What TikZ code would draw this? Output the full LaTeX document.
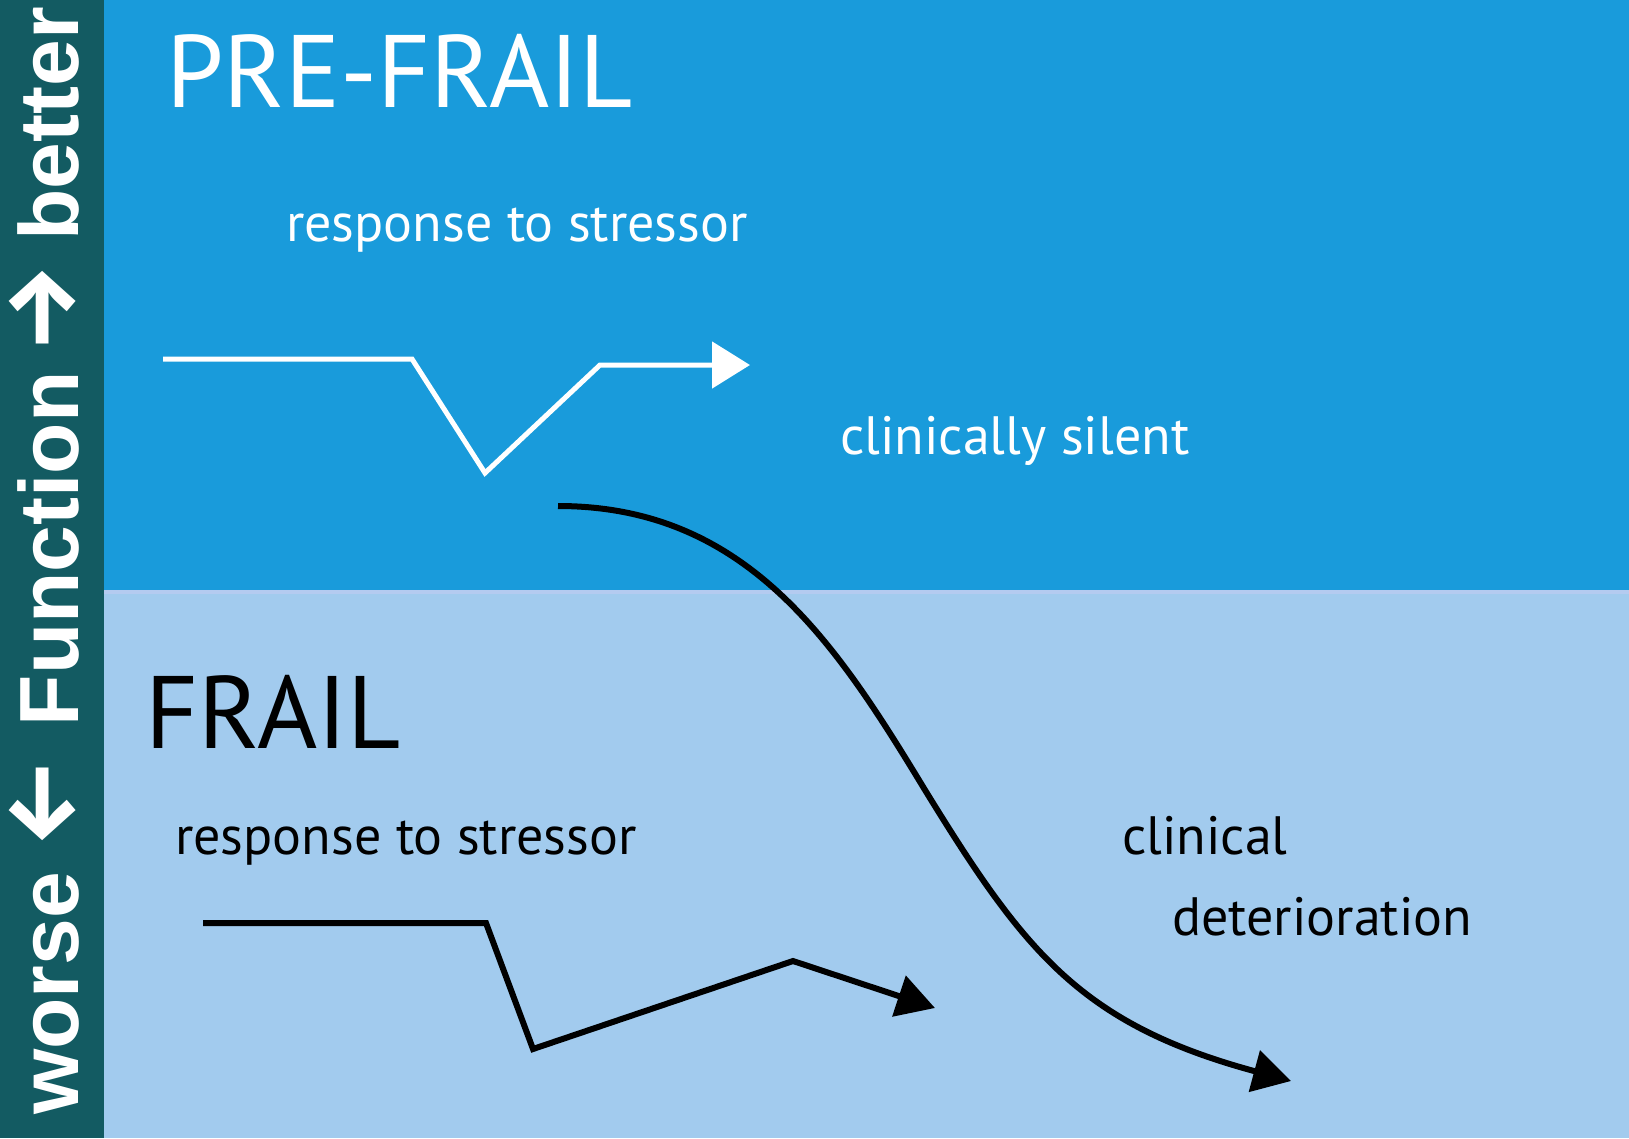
\documentclass[tikz,border=0pt]{standalone}
\usepackage{fontspec}
\setmainfont{PT Sans}
\newfontfamily\axisfont{Liberation Sans}
\newfontfamily\arrowfont{Fira Sans}
\usepackage{tikz}
\usetikzlibrary{arrows.meta,calc,positioning}
\definecolor{bandteal}{HTML}{135B62}
\definecolor{prefrailblue}{HTML}{199BDB}
\definecolor{frailblue}{HTML}{A2CBEE}
\definecolor{seamblue}{HTML}{B4CBF0}
\newcommand{\axisarrow}[1]{{\arrowfont\bfseries\fontsize{100}{100}\selectfont\raisebox{3pt}{#1}}}
\tikzset{
  whitepath/.style={-{Triangle[length=38pt,width=46pt]},line width=5pt,white,miter limit=20},
  blackpath/.style={-{Triangle[length=38pt,width=42pt]},line width=6pt,black,miter limit=20},
  bigtitle/.style={font=\fontsize{103}{103}\selectfont,inner sep=0pt,anchor=base west},
  smalltext/.style={font=\fontsize{54}{54}\selectfont,inner sep=0pt,anchor=base west},
  axislabel/.style={font=\axisfont\bfseries\fontsize{84}{84}\selectfont,text=white,rotate=90,inner sep=0pt,anchor=base}
}

\begin{document}
\begin{tikzpicture}[x=1pt,y=-1pt]
  \useasboundingbox (0,0) rectangle (1629,1138);
  \fill[prefrailblue] (104,0) rectangle (1629,592);
  \fill[frailblue] (104,592) rectangle (1629,1138);
  \draw[seamblue,line width=4pt] (104,592) -- (1629,592);
  \fill[bandteal] (0,0) rectangle (104,1138);
  \node[axislabel] (axis) at (78,561) {worse\hspace{24pt}\axisarrow{←}\hspace{32pt}Function\hspace{18pt}\axisarrow{→}\hspace{23pt}better};

  \node[bigtitle,text=white] (prefrail) at (166,107) {PRE-FRAIL};
  \node[smalltext,text=white] (prestress) at (286,241) {response to stressor};
  \node[smalltext,text=white] (silent) at (840,454) {clinically silent};
  \node[bigtitle,text=black] (frail) at (145,748) {FRAIL};
  \node[smalltext,text=black] (frailstress) at (175,854) {response to stressor};
  \node[smalltext,text=black] (clinical) at (1122,854) {clinical};
  \node[smalltext,text=black] (deterioration) at (1172,935) {deterioration};

  \coordinate (w1) at (163,359);
  \coordinate (w2) at (412,359);
  \coordinate (w3) at (485,473);
  \coordinate (w4) at (600,365);
  \coordinate (w5) at (750,365);
  \draw[whitepath] (w1) -- (w2) -- (w3) -- (w4) -- (w5);

  \coordinate (z1) at (203,923);
  \coordinate (z2) at (486,923);
  \coordinate (z3) at (533,1049);
  \coordinate (z4) at (793,961);
  \coordinate (z5) at (935,1008);
  \draw[blackpath] (z1) -- (z2) -- (z3) -- (z4) -- (z5);

  \coordinate (c1) at (558,506);
  \coordinate (c2) at (925,790);
  \coordinate (c3) at (1291,1081);
  \draw[blackpath] (c1) .. controls (748,506) and (837,645) .. (c2)
    .. controls (1024,951) and (1080,1024) .. (c3);
\end{tikzpicture}
\end{document}
